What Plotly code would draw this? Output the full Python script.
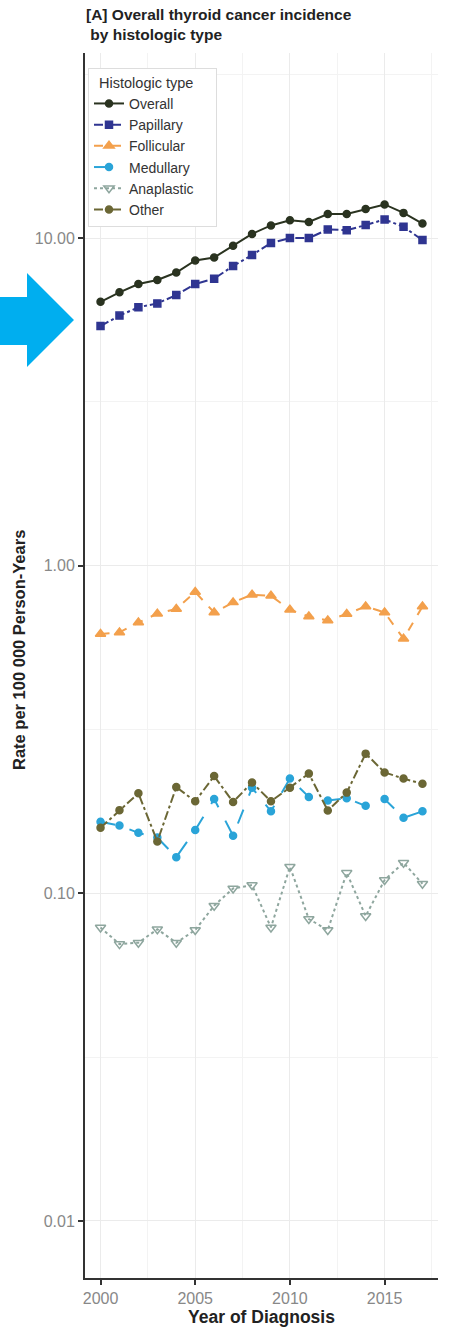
import plotly.graph_objects as go

# Incidence rates per 100 000 person-years, by year of diagnosis
years = list(range(2000, 2018))

overall = [6.39, 6.83, 7.24, 7.45, 7.85, 8.55, 8.73, 9.48, 10.3, 10.93,
           11.33, 11.2, 11.84, 11.84, 12.28, 12.67, 11.94, 11.08]
papillary = [5.39, 5.80, 6.15, 6.32, 6.70, 7.24, 7.52, 8.22, 8.88, 9.66,
             10.0, 10.0, 10.63, 10.57, 10.96, 11.40, 10.83, 9.86]
follicular = [0.619, 0.626, 0.671, 0.714, 0.738, 0.831, 0.720, 0.773, 0.816, 0.810,
              0.734, 0.700, 0.681, 0.712, 0.751, 0.720, 0.599, 0.751]
medullary = [0.1655, 0.161, 0.153, 0.148, 0.129, 0.156, 0.194, 0.150, 0.210, 0.178,
             0.224, 0.197, 0.192, 0.195, 0.185, 0.194, 0.170, 0.178]
anaplastic = [0.0787, 0.0700, 0.0707, 0.0777, 0.0707, 0.0773, 0.0917, 0.1035, 0.106, 0.0787,
              0.1205, 0.0835, 0.0773, 0.1155, 0.0853, 0.1098, 0.124, 0.107]
other = [0.1585, 0.1795, 0.202, 0.144, 0.211, 0.191, 0.228, 0.190, 0.218, 0.191,
         0.210, 0.232, 0.179, 0.203, 0.267, 0.234, 0.224, 0.216]

y_ticks = [0.01, 0.1, 1, 10]
y_tick_text = ["0.01", "0.10", "1.00", "10.00"]
x_ticks = [2000, 2005, 2010, 2015]

series = [
    ("Overall", overall, "#2a3320", "solid", "circle", 7),
    ("Papillary", papillary, "#2f3591", "dashdot", "square", 7),
    ("Follicular", follicular, "#f3a04c", "dash", "triangle-up", 9),
    ("Medullary", medullary, "#2aa4d8", "longdash", "circle", 7),
    ("Anaplastic", anaplastic, "#8ea69e", "dot", "triangle-down-open", 9),
    ("Other", other, "#6b6735", "dashdot", "circle", 7),
]

fig = go.Figure()
for name, vals, color, dash, symbol, size in series:
    fig.add_trace(go.Scatter(
        x=years, y=vals, name=name, mode="lines+markers",
        line=dict(color=color, width=2, dash=dash),
        marker=dict(color=color, symbol=symbol, size=size,
                    line=dict(color=color, width=1.5)),
    ))

W, H = 449, 1333
ML, MR, MT, MB = 85, 11, 53, 55
PW, PH = W - ML - MR, H - MT - MB


def px(x):
    return (x - ML) / PW


def py(y):
    return (H - MB - y) / PH


# pointer arrow at the left edge
arrow = [(0, 297), (27, 297), (27, 273), (74, 320), (27, 367), (27, 345), (0, 345)]
path = "M " + " L ".join(f"{px(a):.4f},{py(b):.4f}" for a, b in arrow) + " Z"
fig.add_shape(type="path", path=path, xref="paper", yref="paper",
              fillcolor="#00aeef", line=dict(width=0), layer="above")

# two-line bold heading above the plot
fig.add_annotation(
    text="<b>[A] Overall thyroid cancer incidence<br> by histologic type</b>",
    xref="paper", yref="paper", x=px(84), y=py(4), xanchor="left", yanchor="top",
    align="left", showarrow=False, font=dict(size=15.5, color="#222"),
)

# y-axis title, placed as a rotated label
fig.add_annotation(
    text="<b>Rate per 100 000 Person-Years</b>",
    xref="paper", yref="paper", x=px(19), y=py(650), xanchor="center", yanchor="middle",
    textangle=-90, showarrow=False, font=dict(size=16.5, color="#222"),
)

grid = "#ebebeb"
fig.update_layout(
    width=W, height=H,
    margin=dict(l=ML, r=MR, t=MT, b=MB),
    paper_bgcolor="white", plot_bgcolor="white",
    font=dict(family="Liberation Sans, Arial, sans-serif", color="#333"),
    legend=dict(
        x=px(88), y=py(68), xanchor="left", yanchor="top",
        bgcolor="white", bordercolor="#dddddd", borderwidth=1,
        font=dict(size=14, color="#333"),
        title=dict(text="&nbsp;&nbsp;Histologic type&nbsp;&nbsp;&nbsp;&nbsp;&nbsp;",
                   font=dict(size=14.5, color="#333")),
        tracegroupgap=0, itemwidth=30,
    ),
    xaxis=dict(
        range=[1999.18, 2017.82], tickvals=x_ticks,
        ticks="outside", ticklen=5, tickwidth=1.5, tickcolor="#333",
        tickfont=dict(size=16, color="#888"),
        showline=True, linecolor="#333", linewidth=2,
        showgrid=True, gridcolor=grid, gridwidth=1, zeroline=False,
        minor=dict(tick0=2000, dtick=2.5, showgrid=True, gridcolor="#f3f3f3", gridwidth=1),
        title=dict(text="<b>Year of Diagnosis</b>", font=dict(size=17.5, color="#222"), standoff=4),
    ),
    yaxis=dict(
        type="log", range=[-2.174, 1.565],
        tickvals=y_ticks, ticktext=y_tick_text,
        ticks="outside", ticklen=5, tickwidth=1.5, tickcolor="#333",
        tickfont=dict(size=16, color="#888"),
        showline=True, linecolor="#333", linewidth=2,
        showgrid=True, gridcolor=grid, gridwidth=1, zeroline=False,
        minor=dict(tickvals=[10 ** -1.5, 10 ** -0.5, 10 ** 0.5, 10 ** 1.5],
                   showgrid=True, gridcolor="#f3f3f3", gridwidth=1),
    ),
    showlegend=True,
)

fig.write_html("out.html")
